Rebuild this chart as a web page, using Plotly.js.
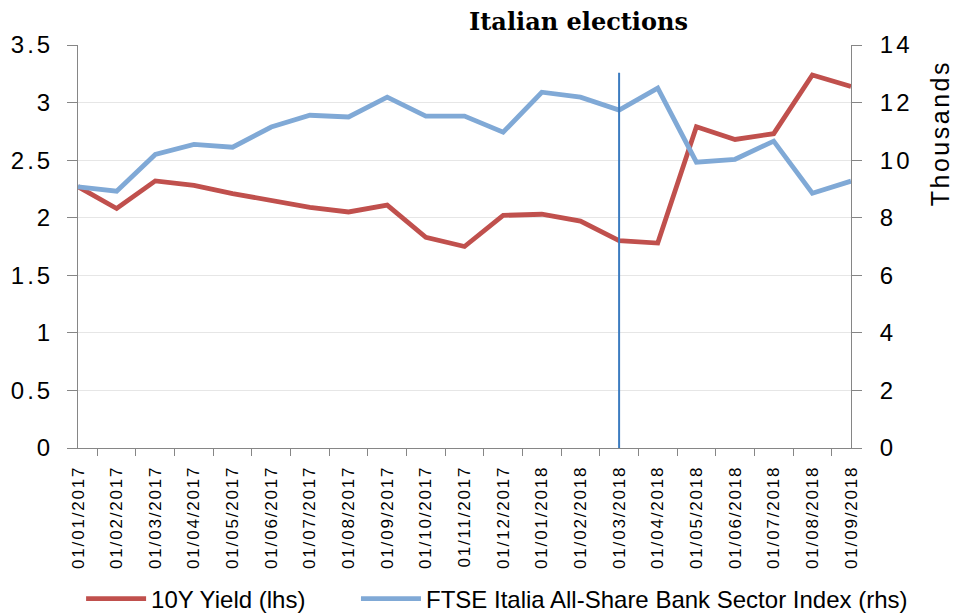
<!DOCTYPE html>
<html>
<head>
<meta charset="utf-8">
<script src="https://cdn.plot.ly/plotly-3.0.1.min.js"></script>
<style>
html,body{margin:0;padding:0;background:#fff;}
#chart{width:957px;height:613px;}
#chart .xtick text{letter-spacing:1.8px;}
#chart .ytick text, #chart .y2tick text{letter-spacing:3px;}
#chart .annotation-text{letter-spacing:2.5px;}
</style>
</head>
<body>
<div id="chart"></div>
<script>
const categories = ["01/01/2017","01/02/2017","01/03/2017","01/04/2017","01/05/2017","01/06/2017","01/07/2017","01/08/2017","01/09/2017","01/10/2017","01/11/2017","01/12/2017","01/01/2018","01/02/2018","01/03/2018","01/04/2018","01/05/2018","01/06/2018","01/07/2018","01/08/2018","01/09/2018"];
const yield10y = [2.27,2.08,2.32,2.28,2.21,2.15,2.09,2.05,2.11,1.83,1.75,2.02,2.03,1.97,1.80,1.78,2.79,2.68,2.73,3.24,3.14];
const bankIndex = [9.07,8.92,10.2,10.55,10.45,11.15,11.56,11.5,12.19,11.53,11.53,10.97,12.36,12.19,11.74,12.5,9.93,10.03,10.66,8.85,9.27];
const electionDate = "01/03/2018";
const electionLineTop = 3.26;

const traces = [
  {x: categories, y: yield10y, name: "10Y Yield (lhs)", type: "scatter", mode: "lines",
   line: {color: "#C0504D", width: 4.8}, yaxis: "y", legend: "legend"},
  {x: categories, y: bankIndex, name: "FTSE Italia All-Share Bank Sector Index (rhs)", type: "scatter", mode: "lines",
   line: {color: "#80A9D6", width: 4.8}, yaxis: "y2", legend: "legend2"}
];
const font = "Liberation Sans, Arial, sans-serif";
const legendCommon = {orientation: "h", xanchor: "left", yref: "container", y: 0.0228, yanchor: "middle",
                      bgcolor: "rgba(0,0,0,0)", itemwidth: 60, font: {family: font, size: 24, color: "#000"}};
const layout = {
  width: 957, height: 613,
  margin: {l: 78, r: 106, t: 45, b: 165},
  paper_bgcolor: "#fff", plot_bgcolor: "#fff",
  showlegend: true,
  title: {text: "<b>Italian elections</b>", font: {family: "DejaVu Serif, serif", size: 24, color: "#000"},
          x: 0.6045, xanchor: "center", y: 0.964, yanchor: "middle"},
  xaxis: {type: "category", tickangle: -90, tickfont: {family: font, size: 17, color: "#000"},
          showgrid: false, showline: true, linecolor: "#868686", linewidth: 1,
          ticks: "outside", tickson: "boundaries", ticklen: 7, tickcolor: "#868686", zeroline: false,
          ticklabelstandoff: 10, automargin: false},
  yaxis: {range: [0, 3.5], dtick: 0.5, tickfont: {family: font, size: 24, color: "#000"},
          showgrid: true, gridcolor: "#E6E6E6", gridwidth: 1, showline: true, linecolor: "#868686",
          ticks: "outside", ticklen: 10, tickcolor: "#868686", zeroline: false, ticklabelstandoff: 9, automargin: false},
  yaxis2: {range: [0, 14], dtick: 2, overlaying: "y", side: "right", tickfont: {family: font, size: 24, color: "#000"},
           showgrid: false, showline: true, linecolor: "#868686", ticks: "outside", ticklen: 10, tickcolor: "#868686",
           zeroline: false, ticklabelstandoff: 13, automargin: false},
  annotations: [{text: "Thousands", xref: "paper", yref: "paper", x: 1.1151, y: 0.7816, xanchor: "center", yanchor: "middle",
                 textangle: -90, showarrow: false, font: {family: font, size: 25, color: "#000"}}],
  legend: Object.assign({}, legendCommon, {x: 0.004}),
  legend2: Object.assign({}, legendCommon, {x: 0.3596}),
  shapes: [{type: "line", xref: "x", yref: "y", x0: electionDate, x1: electionDate, y0: 0, y1: electionLineTop,
            line: {color: "#3C7CC0", width: 2}}]
};
Plotly.newPlot("chart", traces, layout, {displayModeBar: false, staticPlot: true});
</script>
</body>
</html>
